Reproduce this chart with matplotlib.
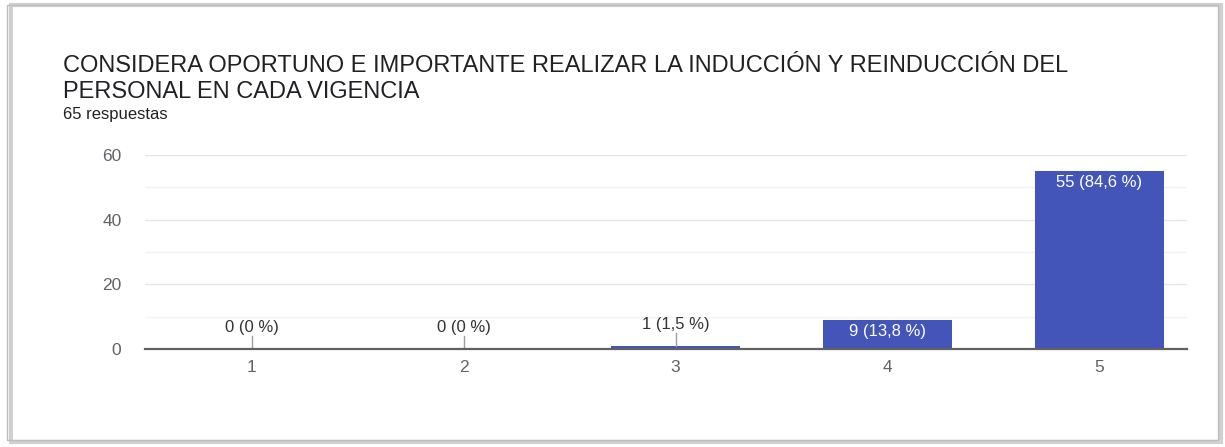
import matplotlib.pyplot as plt
from matplotlib.patches import Rectangle

plt.rcParams['font.family'] = ['Liberation Sans', 'DejaVu Sans']

categories = ['1', '2', '3', '4', '5']
counts = [0, 0, 1, 9, 55]
labels = ['0 (0 %)', '0 (0 %)', '1 (1,5 %)', '9 (13,8 %)', '55 (84,6 %)']
title = ('CONSIDERA OPORTUNO E IMPORTANTE REALIZAR LA INDUCCIÓN Y REINDUCCIÓN DEL\n'
         'PERSONAL EN CADA VIGENCIA')
subtitle = '65 respuestas'

BAR = '#4355B8'
GRAY = '#5f6368'


def main():
    fig = plt.figure(figsize=(12.25, 4.47), dpi=100)

    # card frame with a soft shadow (outline only, so the axes stay visible)
    fig.patches.append(Rectangle((0.009, 0.012), 0.988, 0.976, transform=fig.transFigure,
                                 facecolor='none', edgecolor='#d0d0d0', lw=3, zorder=-2))
    fig.patches.append(Rectangle((0.006, 0.016), 0.988, 0.972, transform=fig.transFigure,
                                 facecolor='none', edgecolor='#bdbdbd', lw=1, zorder=-1))

    fig.text(0.0515, 0.823, title, fontsize=17, color='#202124', va='center',
             linespacing=1.2)
    fig.text(0.0515, 0.743, subtitle, fontsize=12, color='#202124', va='center')

    ax = fig.add_axes([0.1184, 0.2192, 0.8506, 0.434])
    x = list(range(1, len(categories) + 1))
    ax.bar(x, counts, width=0.61, color=BAR, zorder=3)

    for xi, v, lab in zip(x, counts, labels):
        if v >= 5:
            ax.annotate(lab, (xi, v), xytext=(0, -3), textcoords='offset points',
                        ha='center', va='top', color='white', fontsize=12, zorder=4)
        else:
            ax.plot([xi, xi], [v, v + 4], color='#9e9e9e', lw=1, zorder=4)
            ax.text(xi, v + 4.3, lab, ha='center', va='bottom', color='#333333',
                    fontsize=12, zorder=4)

    ax.set_xlim(0.495, 5.415)
    ax.set_ylim(0, 60)
    ax.set_xticks(x)
    ax.set_xticklabels(categories)
    ax.set_yticks([0, 20, 40, 60])
    ax.set_yticks([10, 30, 50], minor=True)
    ax.grid(axis='y', which='major', color='#e6e6e6', lw=1, zorder=0)
    ax.grid(axis='y', which='minor', color='#f3f3f3', lw=1, zorder=0)
    ax.tick_params(axis='both', which='both', length=0, colors=GRAY, labelsize=12.5)
    ax.tick_params(axis='y', pad=17)
    ax.tick_params(axis='x', pad=8)
    for s in ['top', 'right', 'left']:
        ax.spines[s].set_visible(False)
    ax.spines['bottom'].set_color('#616161')
    ax.spines['bottom'].set_linewidth(1.6)
    ax.spines['bottom'].set_zorder(5)
    ax.set_facecolor('white')

    fig.savefig('out.png', dpi=100, facecolor='white')
    return


if __name__ == '__main__':
    main()
